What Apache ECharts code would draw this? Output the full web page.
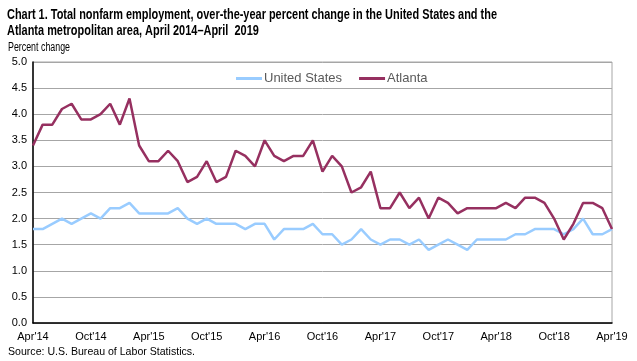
<!DOCTYPE html>
<html><head><meta charset="utf-8">
<script src="https://cdn.jsdelivr.net/npm/echarts@6/dist/echarts.min.js"></script>
<style>html,body{margin:0;padding:0;background:#fff}#c{width:637px;height:361px}</style>
</head><body><div id="c"></div>
<script>
const months = ["Apr'14","May'14","Jun'14","Jul'14","Aug'14","Sep'14","Oct'14","Nov'14","Dec'14","Jan'15","Feb'15","Mar'15",
"Apr'15","May'15","Jun'15","Jul'15","Aug'15","Sep'15","Oct'15","Nov'15","Dec'15","Jan'16","Feb'16","Mar'16",
"Apr'16","May'16","Jun'16","Jul'16","Aug'16","Sep'16","Oct'16","Nov'16","Dec'16","Jan'17","Feb'17","Mar'17",
"Apr'17","May'17","Jun'17","Jul'17","Aug'17","Sep'17","Oct'17","Nov'17","Dec'17","Jan'18","Feb'18","Mar'18",
"Apr'18","May'18","Jun'18","Jul'18","Aug'18","Sep'18","Oct'18","Nov'18","Dec'18","Jan'19","Feb'19","Mar'19","Apr'19"];
const unitedStates = [1.8,1.8,1.9,2.0,1.9,2.0,2.1,2.0,2.2,2.2,2.3,2.1,
2.1,2.1,2.1,2.2,2.0,1.9,2.0,1.9,1.9,1.9,1.8,1.9,
1.9,1.6,1.8,1.8,1.8,1.9,1.7,1.7,1.5,1.6,1.8,1.6,
1.5,1.6,1.6,1.5,1.6,1.4,1.5,1.6,1.5,1.4,1.6,1.6,
1.6,1.6,1.7,1.7,1.8,1.8,1.8,1.7,1.8,2.0,1.7,1.7,1.8];
const atlanta = [3.4,3.8,3.8,4.1,4.2,3.9,3.9,4.0,4.2,3.8,4.3,3.4,
3.1,3.1,3.3,3.1,2.7,2.8,3.1,2.7,2.8,3.3,3.2,3.0,
3.5,3.2,3.1,3.2,3.2,3.5,2.9,3.2,3.0,2.5,2.6,2.9,
2.2,2.2,2.5,2.2,2.4,2.0,2.4,2.3,2.1,2.2,2.2,2.2,
2.2,2.3,2.2,2.4,2.4,2.3,2.0,1.6,1.9,2.3,2.3,2.2,1.8];
const yTicks = {min:0, max:5, interval:0.5};
const titleLines = ["Chart 1. Total nonfarm employment, over-the-year percent change in the United States and the",
                    "Atlanta metropolitan area, April 2014\u2013April  2019"];
const yAxisTitle = 'Percent change';
const sourceText = 'Source: U.S. Bureau of Labor Statistics.';

const FAM = 'Arial, "Liberation Sans", sans-serif';
const cv = document.createElement('canvas').getContext('2d');
function fitScale(text, font, target){ cv.font = font; return target / cv.measureText(text).width; }
const titleFont = 'bold 15px ' + FAM;
const tScale = fitScale(titleLines[0], titleFont, 490);
const pFont = '12px ' + FAM;
const pScale = fitScale(yAxisTitle, pFont, 62);
const sFont = '11px ' + FAM;
const sScale = fitScale(sourceText, sFont, 187);

const chart = echarts.init(document.getElementById('c'));
chart.setOption({
  animation:false,
  backgroundColor:'#fff',
  textStyle:{fontFamily:FAM},
  graphic:[
    {type:'text', left:7, top:7, scaleX:tScale, style:{text:titleLines[0], font:titleFont, fill:'#000'}},
    {type:'text', left:7, top:23, scaleX:tScale, style:{text:titleLines[1], font:titleFont, fill:'#000'}},
    {type:'text', left:8, top:42, scaleX:pScale, style:{text:yAxisTitle, font:pFont, fill:'#000'}},
    {type:'text', left:8, top:346, scaleX:sScale, style:{text:sourceText, font:sFont, fill:'#000'}}
  ],
  legend:{
    top:67, left:231, itemGap:17, itemWidth:26, itemHeight:3,
    textStyle:{fontSize:13, color:'#595959', fontFamily:FAM, padding:[0,0,0,-3]},
    data:[{name:'United States', icon:'rect'},{name:'Atlanta', icon:'rect'}]
  },
  grid:{left:33, right:25, top:62, bottom:38, show:true, borderColor:'#a6a6a6', borderWidth:1},
  xAxis:{
    type:'category', data:months, boundaryGap:false,
    axisLine:{lineStyle:{color:'#000', width:1.5}},
    axisTick:{show:false},
    axisLabel:{interval:5, color:'#000', fontSize:11, margin:8,
      formatter:(v,i)=> (i%6===0? v : '')},
    splitLine:{show:false}
  },
  yAxis:{
    type:'value', min:yTicks.min, max:yTicks.max, interval:yTicks.interval,
    axisLine:{show:true, lineStyle:{color:'#000', width:1.5}},
    axisTick:{show:false},
    axisLabel:{color:'#000', fontSize:11, margin:6, formatter:v=>v.toFixed(1)},
    splitLine:{lineStyle:{color:'#a6a6a6', width:1}}
  },
  series:[
    {name:'United States', type:'line', data:unitedStates, symbol:'none',
     lineStyle:{color:'#99ccff', width:2.5}, itemStyle:{color:'#99ccff'}},
    {name:'Atlanta', type:'line', data:atlanta, symbol:'none',
     lineStyle:{color:'#963060', width:2.5}, itemStyle:{color:'#963060'}}
  ]
});
</script>
</body></html>
